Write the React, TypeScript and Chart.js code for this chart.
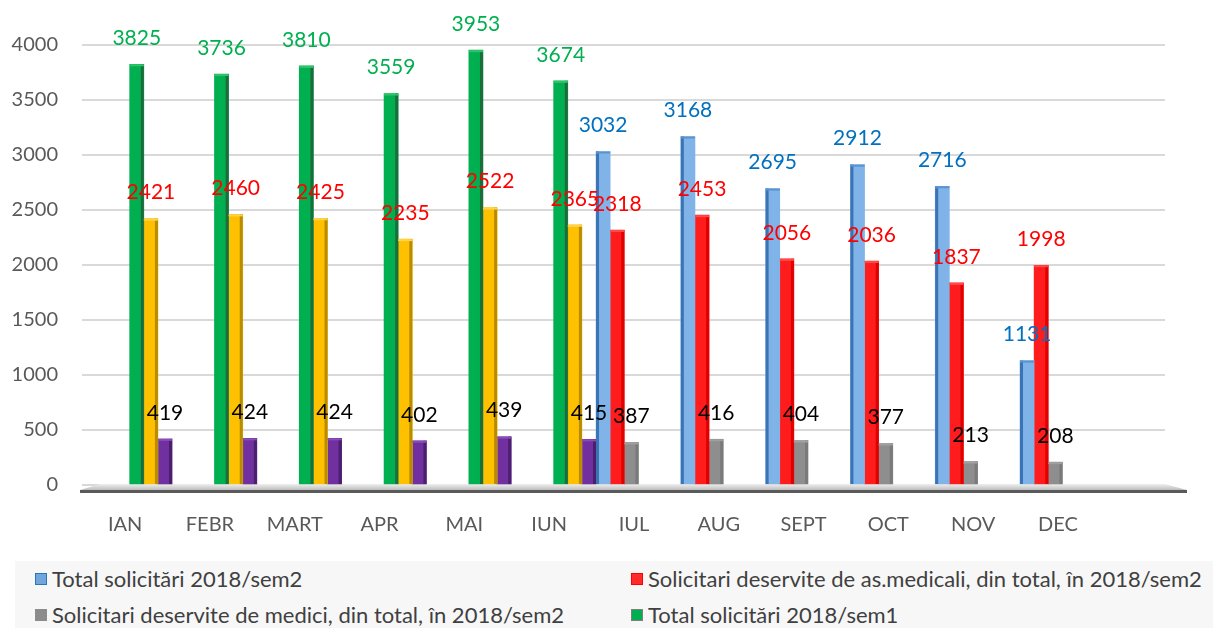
import React, { useEffect, useRef } from 'react';
import { Chart, registerables } from 'chart.js';

Chart.register(...registerables);

// ---- data ----
const months = ['IAN', 'FEBR', 'MART', 'APR', 'MAI', 'IUN', 'IUL', 'AUG', 'SEPT', 'OCT', 'NOV', 'DEC'];

const totalSem1 = [3825, 3736, 3810, 3559, 3953, 3674];
const asMedSem1 = [2421, 2460, 2425, 2235, 2522, 2365];
const mediciSem1 = [419, 424, 424, 402, 439, 415];

const totalSem2 = [3032, 3168, 2695, 2912, 2716, 1131];
const asMedSem2 = [2318, 2453, 2056, 2036, 1837, 1998];
const mediciSem2 = [387, 416, 404, 377, 213, 208];

const seriesNames = [
  'Total solicitări 2018/sem2',
  'Solicitari deservite de as.medicali, din total, în 2018/sem2',
  'Solicitari deservite de medici, din total, în 2018/sem2',
  'Total solicitări 2018/sem1',
  'Solicitari deservite de as.medicali, din total, în 2018/sem1',
  'Solicitari deservite de medici, din total, în 2018/sem1',
];

const Y_MAX = 4000;
const Y_STEP = 500;

const FONT = 'Lato';

const sem2Start = totalSem1.length;
const toPoints = (values: number[], start: number) => values.map((v, i) => ({ x: start + i, y: v }));

// legend (only the entries visible in the reference)
const legendItems = [
  { name: seriesNames[0], fill: '#6fa6dd', border: '#2e75b6' },
  { name: seriesNames[1], fill: '#ff2a2a', border: '#ff0000' },
  { name: seriesNames[2], fill: '#8c8c8c', border: '#8c8c8c' },
  { name: seriesNames[3], fill: '#00b050', border: '#7f7f7f' },
];

const floorPlugin = {
  id: 'floor3d',
  beforeDatasetsDraw(chart: any) {
    const { ctx, chartArea } = chart;
    const { left, right, bottom } = chartArea;
    ctx.save();
    ctx.beginPath();
    ctx.moveTo(left - 20, bottom + 5);
    ctx.lineTo(left, bottom - 1);
    ctx.lineTo(right, bottom - 1);
    ctx.lineTo(right + 22, bottom + 5);
    ctx.closePath();
    const g = ctx.createLinearGradient(0, bottom - 1, 0, bottom + 5);
    g.addColorStop(0, '#f0f0f0');
    g.addColorStop(1, '#bdbdbd');
    ctx.fillStyle = g;
    ctx.fill();
    ctx.beginPath();
    ctx.moveTo(left - 20, bottom + 6.5);
    ctx.lineTo(right + 22, bottom + 6.5);
    ctx.lineWidth = 3;
    ctx.strokeStyle = '#5a5a5a';
    ctx.stroke();
    ctx.restore();
  },
};

const decorPlugin = {
  id: 'barDecor',
  afterDatasetsDraw(chart: any) {
    const ctx = chart.ctx;
    ctx.save();
    // side faces
    chart.data.datasets.forEach((ds: any, di: number) => {
      const meta = chart.getDatasetMeta(di);
      if (meta.hidden) return;
      meta.data.forEach((el: any) => {
        const { x, y, base, width } = el.getProps(['x', 'y', 'base', 'width'], true);
        const l = x - width / 2;
        const side = 3;
        ctx.fillStyle = ds.sideColor;
        if (ds.sideAt === 'left') ctx.fillRect(l, y, side, base - y);
        else ctx.fillRect(l + width - side, y, side, base - y);
        // top cap
        ctx.fillStyle = ds.capColor;
        ctx.fillRect(l, y, width, 2);
      });
    });
    // value labels
    ctx.font = `21px ${FONT}`;
    ctx.textAlign = 'center';
    ctx.textBaseline = 'middle';
    chart.data.datasets.forEach((ds: any, di: number) => {
      const meta = chart.getDatasetMeta(di);
      if (meta.hidden) return;
      meta.data.forEach((el: any, i: number) => {
        const v = ds.data[i].y;
        if (v == null) return;
        const { x, y } = el.getProps(['x', 'y'], true);
        ctx.fillStyle = ds.labelColor;
        ctx.fillText(String(v), x, y - 26);
      });
    });
    ctx.restore();
  },
};

export default function App() {
  const ref = useRef<HTMLCanvasElement>(null);

  useEffect(() => {
    if (!ref.current) return;
    const bar = (label: string, data: any[], bg: string, side: string, sideAt: string, cap: string, labelColor: string) => ({
      label,
      data,
      backgroundColor: bg,
      borderWidth: 0,
      sideColor: side,
      sideAt,
      capColor: cap,
      labelColor,
      categoryPercentage: 1,
      barPercentage: 1,
    });
    const chart = new Chart(ref.current, {
      type: 'bar',
      data: {
        datasets: [
          bar(seriesNames[0], toPoints(totalSem2, sem2Start), '#80b4e8', '#3a74b4', 'left', '#5b93cf', '#0070c0'),
          bar(seriesNames[1], toPoints(asMedSem2, sem2Start), '#ff1c1c', '#e00000', 'right', '#ff4a4a', '#ff0000'),
          bar(seriesNames[2], toPoints(mediciSem2, sem2Start), '#8e8e8e', '#7a7a7a', 'right', '#a0a0a0', '#000000'),
          bar(seriesNames[3], toPoints(totalSem1, 0), '#00b050', '#1f6b3c', 'right', '#2fc46a', '#00b050'),
          bar(seriesNames[4], toPoints(asMedSem1, 0), '#ffc000', '#b88c00', 'right', '#ffd34d', '#ff0000'),
          bar(seriesNames[5], toPoints(mediciSem1, 0), '#7030a0', '#4a1f6b', 'right', '#8a4cb8', '#000000'),
        ] as any,
      },
      options: {
        animation: false,
        responsive: false,
        maintainAspectRatio: false,
        layout: { padding: { left: 8, right: 48, top: 45, bottom: 5 } },
        plugins: {
          legend: { display: false },
          tooltip: { enabled: false },
        },
        scales: {
          x: {
            type: 'linear',
            min: -0.35,
            max: 12.21,
            offset: false,
            grid: { display: false, drawTicks: false },
            border: { display: false },
            afterBuildTicks: (axis: any) => {
              axis.ticks = months.map((_, i) => ({ value: i }));
            },
            afterFit: (axis: any) => {
              axis.height = 60;
            },
            ticks: {
              autoSkip: false,
              maxRotation: 0,
              padding: 28,
              labelOffset: -4.5,
              color: '#595959',
              font: { family: FONT, size: 20 },
              callback: (value: any) => months[value] ?? '',
            },
          },
          y: {
            min: 0,
            max: Y_MAX,
            afterFit: (axis: any) => {
              axis.width = 92;
            },
            grid: { color: '#d9d9d9', lineWidth: 2, tickLength: 18 },
            border: { display: false },
            ticks: {
              stepSize: Y_STEP,
              padding: 24,
              color: '#595959',
              font: { family: FONT, size: 20 },
              callback: (value: any) => String(value),
            },
          },
        },
      },
      plugins: [floorPlugin, decorPlugin],
    } as any);
    return () => chart.destroy();
  }, []);

  return (
    <div style={{ position: 'absolute', left: 0, top: 0, width: 1213, height: 628, background: '#ffffff', fontFamily: FONT, overflow: 'hidden' }}>
      <canvas ref={ref} width={1213} height={550} style={{ position: 'absolute', left: 0, top: 0, width: 1213, height: 550 }} />
      <div style={{ position: 'absolute', left: 15, top: 561, width: 1198, height: 67, background: '#f7f7f7' }}>
        {legendItems.map((it, i) => {
          const col = i % 2;
          const row = Math.floor(i / 2);
          return (
            <div
              key={it.name}
              style={{
                position: 'absolute',
                left: col === 0 ? 20 : 616,
                top: (row === 0 ? 18 : 54) - 13,
                height: 26,
                display: 'flex',
                alignItems: 'center',
                whiteSpace: 'nowrap',
              }}
            >
              <span style={{ display: 'inline-block', width: 10, height: 10, background: it.fill, border: `1px solid ${it.border}` }} />
              <span style={{ marginLeft: 5, fontSize: 22, color: '#404040', lineHeight: '26px' }}>{it.name}</span>
            </div>
          );
        })}
      </div>
    </div>
  );
}
